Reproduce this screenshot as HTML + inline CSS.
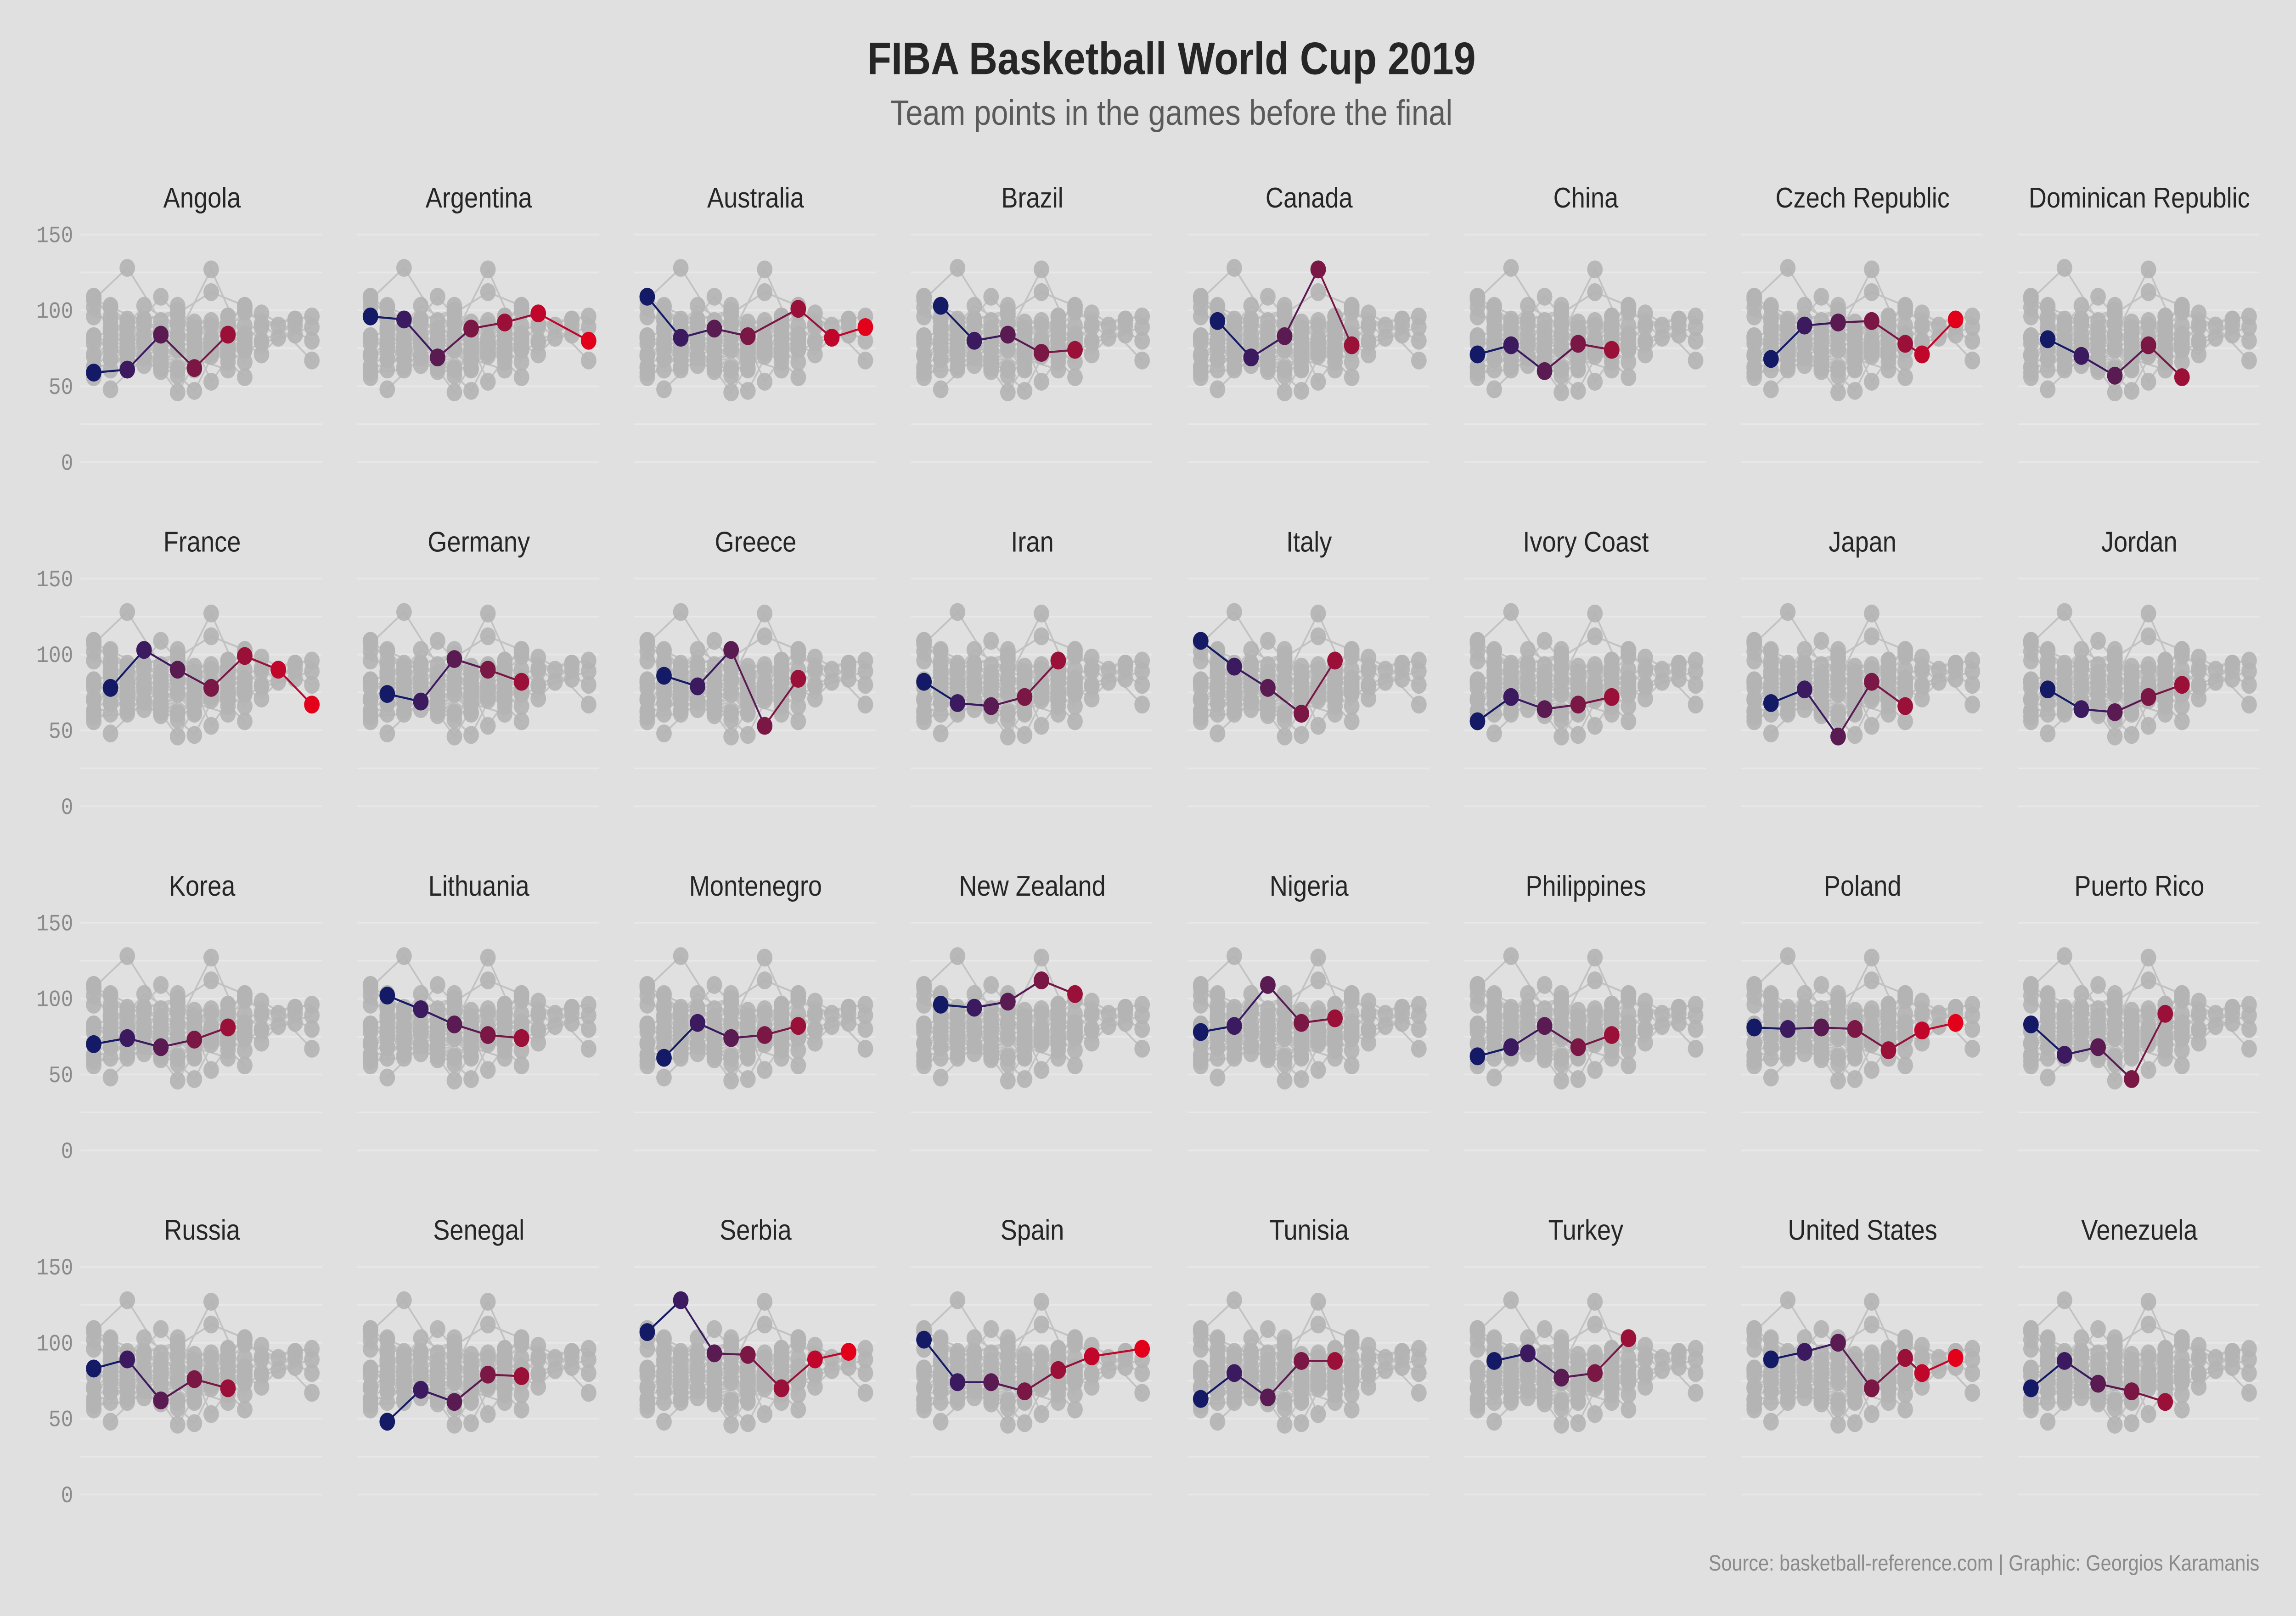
<!DOCTYPE html>
<html><head><meta charset="utf-8">
<style>
html,body{margin:0;padding:0;background:#e0e0e0;width:100%;height:100%;overflow:hidden;}
svg{display:block;position:absolute;left:0;top:0;width:100vw;height:100vh;}
</style></head>
<body>
<svg id="chart" viewBox="0 0 1568 958" preserveAspectRatio="none" xmlns="http://www.w3.org/2000/svg">
<rect x="0" y="0" width="1568" height="958" fill="#e0e0e0"/>
<text x="800" y="44" text-anchor="middle" font-family="Liberation Sans, sans-serif" font-size="27" font-weight="bold" fill="#262626">FIBA Basketball World Cup 2019</text>
<text x="800" y="74" text-anchor="middle" font-family="Liberation Sans, sans-serif" font-size="21" fill="#5a5a5a">Team points in the games before the final</text>
<text x="1543" y="931" text-anchor="end" font-family="Liberation Sans, sans-serif" font-size="13" fill="#8a8a8a">Source: basketball-reference.com | Graphic: Georgios Karamanis</text>
<g id="panels"></g>
</svg>
<script>
const teams = ["Angola","Argentina","Australia","Brazil","Canada","China","Czech Republic","Dominican Republic",
"France","Germany","Greece","Iran","Italy","Ivory Coast","Japan","Jordan",
"Korea","Lithuania","Montenegro","New Zealand","Nigeria","Philippines","Poland","Puerto Rico",
"Russia","Senegal","Serbia","Spain","Tunisia","Turkey","United States","Venezuela"];
// game day (days after Aug 31)
const gameDays = [
[0,2,4,6,8],[0,2,4,6,8,10,13],[0,2,4,6,9,11,13],[1,3,5,7,9],[1,3,5,7,9],[0,2,4,6,8],[1,3,5,7,9,10,12],[1,3,5,7,9],
[1,3,5,7,9,11,13],[1,3,5,7,9],[1,3,5,7,9],[0,2,4,6,8],[0,2,4,6,8],[0,2,4,6,8],[1,3,5,7,9],[1,3,5,7,9],
[0,2,4,6,8],[1,3,5,7,9],[1,3,5,7,9],[1,3,5,7,9],[0,2,4,6,8],[0,2,4,6,8],[0,2,4,6,8,10,12],[0,2,4,6,8],
[0,2,4,6,8],[1,3,5,7,9],[0,2,4,6,8,10,12],[0,2,4,6,8,10,13],[0,2,4,6,8],[1,3,5,7,9],[1,3,5,7,9,10,12],[0,2,4,6,8]];
// points scored
const points = [
[59,61,84,62,84],[96,94,69,88,92,98,80],[109,82,88,83,101,82,89],[103,80,84,72,74],[93,69,83,127,77],[71,77,60,78,74],[68,90,92,93,78,71,94],[81,70,57,77,56],
[78,103,90,78,99,90,67],[74,69,97,90,82],[86,79,103,53,84],[82,68,66,72,96],[109,92,78,61,96],[56,72,64,67,72],[68,77,46,82,66],[77,64,62,72,80],
[70,74,68,73,81],[102,93,83,76,74],[61,84,74,76,82],[96,94,98,112,103],[78,82,109,84,87],[62,68,82,68,76],[81,80,81,80,66,79,84],[83,63,68,47,90],
[83,89,62,76,70],[48,69,61,79,78],[107,128,93,92,70,89,94],[102,74,74,68,82,91,96],[63,80,64,88,88],[88,93,77,80,103],[89,94,100,70,90,80,90],[70,88,73,68,61]];
const yTicks = [0,50,100,150];
const yGrid = [0,25,50,75,100,125,150];

const NS = "http://www.w3.org/2000/svg";
const colW = 189, rowH = 204;
function panelX(col){ return col*colW; }
function xScale(col,d){ return panelX(col) + 64 + d*11.46; }
function yScale(row,v){ return 274 + row*rowH - v*0.9; }
const palette = ["#141a66","#3b1a60","#5a1a52","#7a1745","#9a1038","#c0062a","#e3001b"];
function mk(tag, attrs, parent){ const e=document.createElementNS(NS,tag); for(const k in attrs) e.setAttribute(k,attrs[k]); parent.appendChild(e); return e; }

const root = document.getElementById("panels");
teams.forEach((team, ti) => {
  const col = ti % 8, row = Math.floor(ti/8);
  const g = mk("g", {}, root);
  
  
  yGrid.forEach(v => {
    const l = mk("line", {x1:panelX(col)+55, x2:panelX(col)+220, y1:yScale(row,v), y2:yScale(row,v), stroke:"#e8e8e8", "stroke-width":1}, g);
    
    
  });
  if (col === 0) {
    yTicks.forEach(v => {
      const t = mk("text", {x:50, y:yScale(row,v)+4.5, "text-anchor":"end", "font-family":"Liberation Mono, monospace", "font-size":14, fill:"#8a8a8a"}, g);
      t.textContent = v;
      
      
    });
  }
  const title = mk("text", {x:panelX(col)+138, y:yScale(row,0)-151, "text-anchor":"middle", "font-family":"Liberation Sans, sans-serif", "font-size":17, fill:"#262626"}, g);
  title.textContent = team;
  
  
  const bg = mk("g", {}, g);
  
  
  points.forEach((ps, oi) => {
    const d = gameDays[oi];
    const pl = mk("polyline", {points: ps.map((v,i)=>xScale(col,d[i])+","+yScale(row,v)).join(" "), fill:"none", stroke:"#c2c2c2", "stroke-width":1.1}, bg);
    
    
  });
  points.forEach((ps, oi) => {
    const d = gameDays[oi];
    ps.forEach((v,i) => {
      const c = mk("circle", {cx:xScale(col,d[i]), cy:yScale(row,v), r:5.3, fill:"#b4b4b4", "fill-opacity":0.9}, bg);
      
      
    });
  });
  const ps = points[ti], d = gameDays[ti];
  for (let i=0;i<ps.length-1;i++){
    const x1=xScale(col,d[i]), y1=yScale(row,ps[i]), x2=xScale(col,d[i+1]), y2=yScale(row,ps[i+1]);
    const l = mk("line", {x1:x1,y1:y1,x2:x2,y2:y2, stroke:palette[i], "stroke-width":1.2}, g);
    
    
  }
  ps.forEach((v,i) => {
    const c = mk("circle", {cx:xScale(col,d[i]), cy:yScale(row,v), r:5.3, fill:palette[i]}, g);
    
    
  });
});
</script>
</body></html>
